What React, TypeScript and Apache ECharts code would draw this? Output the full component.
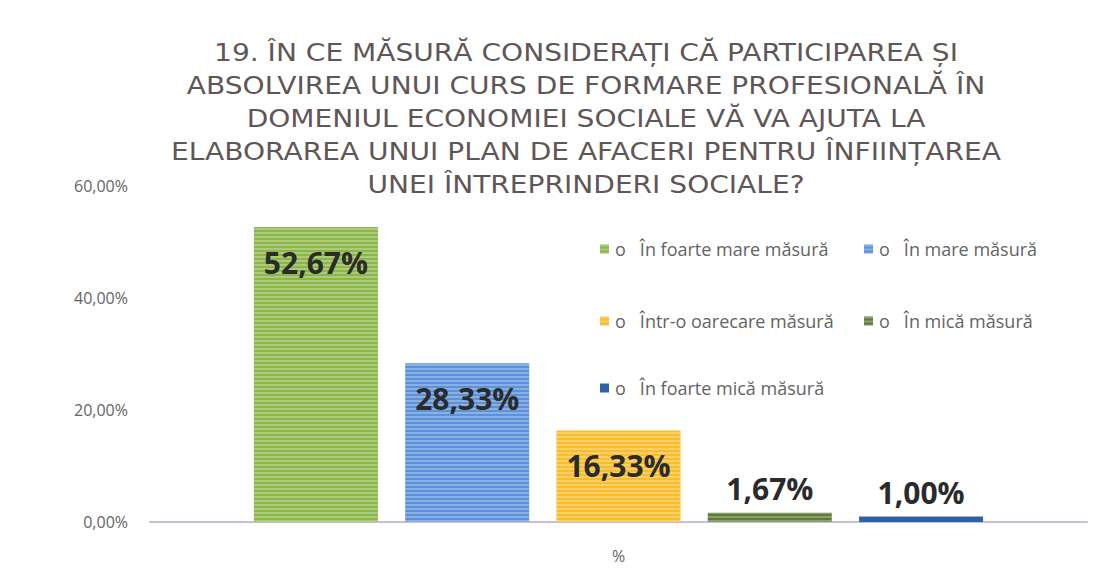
import React, { useEffect, useRef } from "react";
import * as echarts from "echarts";

const titleText =
  "19. ÎN CE MĂSURĂ CONSIDERAȚI CĂ PARTICIPAREA ȘI\nABSOLVIREA UNUI CURS DE FORMARE PROFESIONALĂ ÎN\nDOMENIUL ECONOMIEI SOCIALE VĂ VA AJUTA LA\nELABORAREA UNUI PLAN DE AFACERI PENTRU ÎNFIINȚAREA\nUNEI ÎNTREPRINDERI SOCIALE?";
const categories = ["%"];
const seriesNames = [
  "În foarte mare măsură",
  "În mare măsură",
  "Într-o oarecare măsură",
  "În mică măsură",
  "În foarte mică măsură",
];
const seriesValues = [52.67, 28.33, 16.33, 1.67, 1.0];
const seriesColors = ["#8cb54a", "#5d91d8", "#f8bd2c", "#5f7b37", "#2e62a6"];

const fmt = (v: number) => v.toFixed(2).replace(".", ",") + "%";

export default function App() {
  const ref = useRef<HTMLDivElement>(null);
  useEffect(() => {
    const chart = echarts.init(ref.current!, null, { renderer: "svg" });
    const legendPos = [
      { left: 595, top: 235 },
      { left: 859, top: 235 },
      { left: 595, top: 307 },
      { left: 859, top: 307 },
      { left: 595, top: 374 },
    ];
    chart.setOption({
      animation: false,
      backgroundColor: "#ffffff",
      aria: { enabled: false, decal: { show: true } },
      graphic: [
        {
          type: "text",
          x: 586,
          y: 36,
          scaleX: 1.17,
          style: {
            text: titleText,
            textAlign: "center",
            textVerticalAlign: "top",
            fontFamily: "DejaVu Sans",
            fontSize: 24,
            fontWeight: "normal",
            fill: "#5f5757",
            lineHeight: 33,
          },
        },
      ],
      legend: seriesNames.map((n, i) => ({
        data: [n],
        left: legendPos[i].left,
        top: legendPos[i].top,
        itemWidth: 9,
        itemHeight: 9,
        itemGap: 0,
        icon: "rect",
        formatter: (name: string) => "o   " + name,
        textStyle: { fontFamily: "Open Sans", fontSize: 18, color: "#646464", padding: [0, 0, 0, 1] },
        selectedMode: false,
      })),
      grid: { left: 150, right: 24, top: 186, bottom: 56 },
      xAxis: {
        type: "category",
        data: categories,
        axisLine: { lineStyle: { color: "#c6bfd6", width: 2 } },
        axisTick: { show: false },
        axisLabel: { fontFamily: "Open Sans", fontSize: 16, color: "#646464", margin: 26 },
      },
      yAxis: {
        type: "value",
        min: 0,
        max: 60,
        interval: 20,
        axisLine: { show: false },
        axisTick: { show: false },
        splitLine: { show: false },
        axisLabel: {
          fontFamily: "Open Sans",
          fontSize: 16,
          color: "#646464",
          margin: 22,
          formatter: (v: number) => fmt(v),
        },
      },
      series: seriesNames.map((n, i) => ({
        name: n,
        type: "bar",
        data: [seriesValues[i]],
        barWidth: 124,
        barGap: "22%",
        itemStyle: {
          color: seriesColors[i],
          decal: {
            symbol: "rect",
            symbolSize: 1,
            dashArrayX: [[10, 0]],
            dashArrayY: [2, 2],
            rotation: 0,
            color: i === 4 ? "rgba(255,255,255,0)" : "rgba(255,255,255,0.28)",
          },
        },
        label: {
          show: true,
          position: i < 3 ? "insideTop" : "top",
          distance: i < 3 ? 20 : 9,
          formatter: (p: any) => fmt(p.value),
          fontFamily: "Open Sans",
          fontWeight: "bold",
          fontSize: 30,
          color: "#2b2b2b",
        },
      })),
    });
    return () => chart.dispose();
  }, []);
  return (
    <div
      ref={ref}
      style={{ position: "fixed", left: 0, top: 0, width: 1111, height: 578 }}
    />
  );
}
